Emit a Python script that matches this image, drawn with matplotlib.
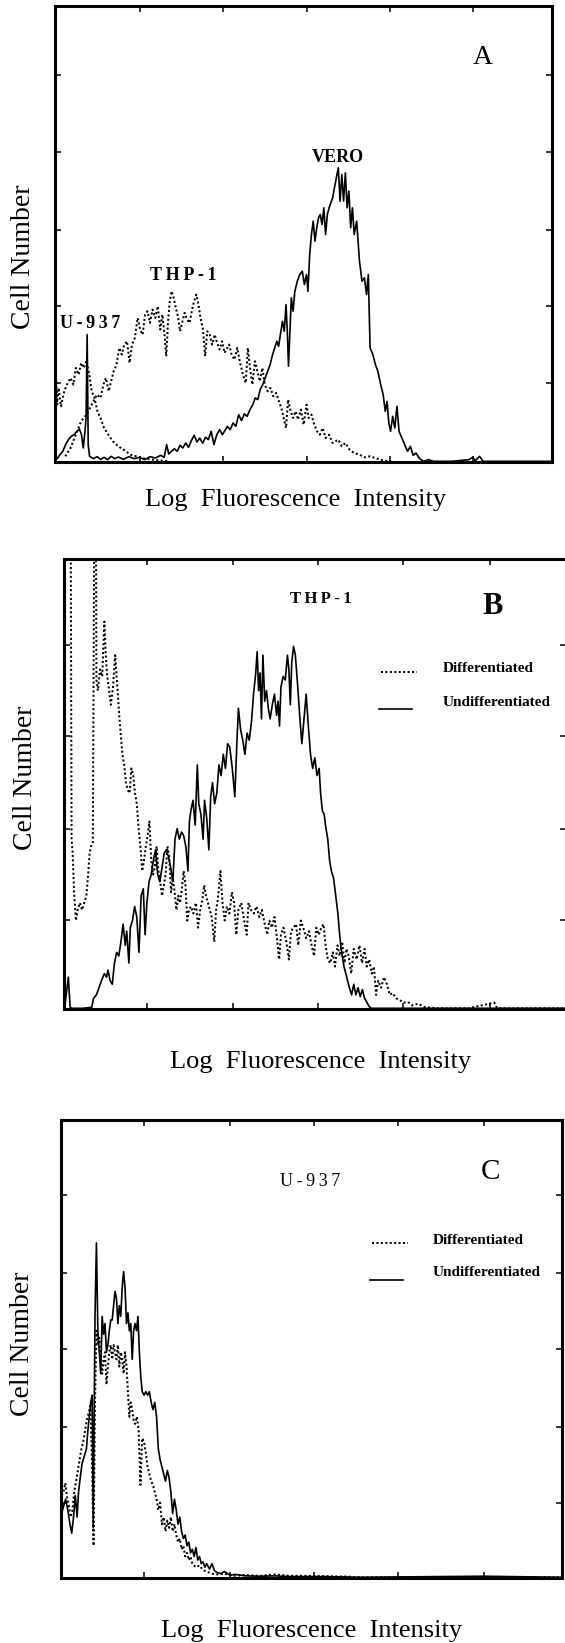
import numpy as np
import matplotlib
matplotlib.use("Agg")
import matplotlib.pyplot as plt
from matplotlib.lines import Line2D

plt.rcParams["font.family"] = ["Liberation Serif", "DejaVu Serif"]

FIG_W, FIG_H, DPI = 565, 1643, 100

# ---- panel A : VERO / THP-1 / U-937 (channel, cell count) ----
a_u937 = [(1, 192), (3, 262), (6, 172), (10, 222), (17, 167), (26, 212), (34, 232),
          (44, 252), (52, 232), (59, 282), (67, 262), (74, 297), (82, 282), (89, 304),
          (97, 262), (104, 212), (112, 192), (120, 152), (129, 132), (139, 102), (151, 82),
          (164, 62), (179, 47), (194, 37), (214, 22), (234, 16), (254, 10), (284, 6), (324, 2)]

a_thp1 = [(29, 17), (44, 42), (59, 82), (74, 122), (89, 142), (99, 162), (109, 182),
          (119, 202), (129, 192), (137, 232), (144, 252), (152, 212), (159, 242), (166, 272),
          (174, 292), (182, 342), (189, 322), (196, 352), (204, 362), (211, 297), (218, 352),
          (226, 372), (234, 432), (241, 397), (248, 382), (255, 442), (262, 452), (269, 417),
          (276, 457), (284, 432), (291, 467), (298, 397), (304, 442), (310, 382), (315, 317),
          (320, 422), (325, 482), (330, 512), (336, 492), (342, 462), (348, 437), (354, 392),
          (361, 422), (367, 447), (374, 427), (381, 417), (388, 457), (394, 482), (400, 502),
          (406, 472), (412, 432), (419, 397), (425, 317), (431, 392), (438, 382), (445, 352),
          (452, 382), (459, 357), (466, 337), (473, 362), (480, 327), (493, 352), (500, 322),
          (508, 307), (516, 342), (524, 297), (532, 262), (540, 237), (546, 342), (552, 282),
          (559, 232), (566, 302), (573, 272), (580, 242), (587, 282), (594, 232), (602, 212),
          (610, 222), (618, 197), (626, 207), (634, 182), (642, 157), (654, 102), (660, 187),
          (666, 157), (674, 132), (681, 152), (688, 127), (696, 157), (704, 112), (712, 172),
          (718, 132), (726, 142), (734, 112), (742, 92), (750, 82), (758, 102), (766, 72),
          (776, 82), (786, 57), (802, 67), (812, 47), (822, 57), (834, 37), (847, 27),
          (862, 22), (877, 14), (892, 17), (912, 10), (932, 4), (952, 2)]

a_vero = [(0, 10), (6, 10), (14, 22), (22, 32), (30, 52), (38, 67), (46, 77), (54, 82),
          (62, 92), (69, 99), (75, 82), (80, 42), (84, 82), (88, 132), (91, 382), (94, 52),
          (98, 17), (109, 10), (119, 16), (129, 8), (139, 14), (149, 7), (159, 17), (169, 10),
          (179, 15), (194, 8), (209, 16), (224, 10), (239, 14), (254, 7), (269, 16), (284, 12),
          (299, 20), (309, 14), (316, 52), (322, 24), (330, 32), (338, 40), (346, 32), (354, 50),
          (362, 42), (370, 57), (378, 44), (386, 64), (394, 80), (402, 60), (410, 72), (418, 56),
          (426, 74), (434, 67), (442, 92), (450, 52), (458, 82), (466, 97), (474, 82), (488, 107),
          (496, 97), (504, 117), (512, 107), (520, 142), (528, 124), (536, 144), (544, 137),
          (552, 157), (560, 172), (567, 192), (574, 187), (581, 217), (588, 232), (595, 252),
          (602, 272), (609, 292), (616, 322), (622, 342), (628, 362), (633, 347), (644, 422),
          (649, 392), (654, 472), (658, 382), (661, 287), (665, 392), (669, 492), (674, 452),
          (679, 512), (686, 542), (693, 562), (700, 572), (706, 532), (712, 562), (716, 512),
          (721, 622), (726, 682), (731, 722), (736, 662), (741, 702), (746, 732), (751, 742),
          (756, 712), (761, 762), (766, 682), (771, 742), (776, 762), (781, 777), (786, 792),
          (791, 822), (802, 882), (807, 782), (812, 862), (817, 782), (822, 867), (827, 762),
          (832, 812), (837, 702), (842, 762), (847, 682), (854, 722), (862, 602), (869, 542),
          (876, 552), (882, 502), (887, 562), (892, 342), (900, 322), (907, 292), (914, 272),
          (922, 232), (929, 202), (935, 152), (940, 182), (945, 117), (950, 92), (956, 137),
          (962, 102), (968, 167), (974, 92), (982, 72), (990, 52), (998, 32), (1006, 47),
          (1014, 20), (1022, 27), (1032, 10), (1044, 2), (1057, 7), (1072, 2), (1122, 2),
          (1172, 7), (1182, 14), (1190, 4), (1202, 17), (1212, 2), (1272, 2), (1402, 2)]

a_xticks = [240, 476, 712, 948, 1184]
a_yticks = [238, 468, 696, 929, 1161]

# ---- panel B : THP-1 differentiated vs undifferentiated ----
b_diff = [(18, 1600), (21, 480), (24, 440), (28, 330), (33, 250), (38, 280), (44, 300),
          (50, 280), (56, 300), (62, 320), (67, 380), (71, 440), (75, 460), (80, 470),
          (85, 1600), (88, 1600), (90, 930), (94, 900), (100, 960), (106, 940), (112, 1095),
          (116, 1000), (120, 940), (124, 910), (130, 860), (136, 910), (142, 1000), (146, 940),
          (150, 880), (154, 820), (158, 770), (162, 720), (167, 690), (172, 640), (177, 620),
          (182, 610), (187, 680), (192, 660), (197, 610), (202, 580), (207, 510), (212, 460),
          (217, 390), (222, 420), (227, 460), (232, 490), (237, 530), (242, 420), (247, 380),
          (252, 400), (257, 460), (262, 390), (267, 360), (272, 320), (277, 350), (282, 380),
          (287, 460), (292, 430), (297, 330), (302, 370), (307, 330), (312, 280), (317, 320),
          (322, 300), (327, 340), (332, 390), (337, 350), (342, 250), (347, 280), (352, 290),
          (359, 270), (366, 300), (372, 230), (378, 280), (384, 310), (389, 350), (394, 320),
          (402, 290), (410, 260), (417, 190), (422, 280), (427, 310), (434, 390), (440, 300),
          (446, 250), (452, 290), (459, 270), (466, 330), (472, 300), (478, 210), (484, 280),
          (492, 300), (500, 250), (507, 210), (512, 300), (519, 280), (527, 270), (534, 290),
          (542, 260), (549, 280), (557, 240), (564, 210), (570, 250), (577, 230), (584, 260),
          (590, 210), (597, 140), (602, 210), (609, 230), (617, 190), (624, 140), (630, 220),
          (637, 230), (644, 240), (650, 180), (657, 250), (664, 230), (672, 200), (680, 220),
          (687, 180), (694, 150), (700, 230), (707, 210), (714, 230), (720, 240), (726, 180),
          (732, 140), (739, 130), (746, 160), (752, 120), (759, 180), (765, 150), (772, 190),
          (778, 130), (784, 170), (790, 150), (797, 100), (804, 170), (812, 140), (820, 180),
          (827, 130), (834, 170), (840, 120), (847, 140), (854, 100), (860, 120), (866, 40),
          (872, 80), (880, 60), (888, 90), (896, 70), (904, 40), (912, 45), (922, 30),
          (932, 25), (942, 18), (954, 20), (967, 10), (982, 15), (1002, 5), (1042, 2),
          (1122, 2), (1194, 18), (1202, 2), (1272, 2), (1392, 2)]

b_undiff = [(2, 5), (12, 90), (17, 5), (22, 2), (52, 2), (77, 5), (82, 30), (90, 40),
            (97, 60), (104, 80), (112, 100), (118, 90), (122, 110), (128, 80), (134, 70),
            (140, 130), (146, 160), (152, 150), (158, 190), (164, 240), (170, 180), (174, 220),
            (180, 130), (184, 230), (190, 250), (196, 290), (202, 260), (208, 160), (214, 320),
            (220, 340), (225, 210), (230, 300), (236, 360), (242, 380), (248, 420), (254, 450),
            (260, 380), (266, 360), (272, 400), (278, 440), (284, 450), (290, 430), (296, 400),
            (302, 360), (308, 480), (314, 510), (320, 480), (326, 500), (332, 490), (338, 460),
            (344, 390), (348, 530), (352, 560), (358, 590), (364, 520), (370, 690), (374, 580),
            (380, 550), (386, 480), (390, 590), (396, 540), (402, 450), (407, 600), (412, 640),
            (418, 580), (424, 610), (430, 690), (436, 660), (442, 720), (448, 680), (454, 750),
            (460, 740), (467, 680), (474, 600), (480, 760), (484, 850), (490, 790), (496, 760),
            (502, 720), (508, 780), (514, 760), (520, 810), (526, 890), (532, 950), (536, 1010),
            (540, 900), (544, 950), (548, 820), (552, 1000), (557, 870), (562, 900), (567, 850),
            (572, 820), (578, 860), (584, 890), (590, 830), (594, 870), (598, 800), (602, 910),
            (608, 940), (614, 930), (620, 1000), (624, 960), (628, 860), (632, 980), (637, 1025),
            (642, 1000), (648, 920), (654, 830), (660, 750), (666, 820), (672, 890), (678, 800),
            (684, 720), (690, 680), (696, 710), (702, 660), (708, 680), (712, 610), (717, 560),
            (722, 550), (727, 510), (732, 480), (737, 420), (742, 390), (748, 370), (754, 320),
            (760, 270), (764, 220), (768, 180), (772, 150), (777, 120), (782, 100), (787, 80),
            (792, 60), (798, 40), (804, 70), (810, 40), (816, 60), (822, 35), (828, 55),
            (834, 30), (840, 20), (846, 8), (852, 2), (1392, 2)]

b_xticks = [230, 470, 705, 942, 1182]
b_yticks = [252, 510, 772, 1030]

# ---- panel C : U-937 differentiated vs undifferentiated ----
c_diff = [(2, 230), (7, 240), (12, 265), (17, 225), (22, 200), (27, 170), (32, 190),
          (37, 240), (42, 270), (47, 300), (52, 330), (57, 360), (62, 380), (67, 410),
          (72, 440), (77, 460), (82, 480), (87, 310), (91, 90), (95, 490), (99, 690),
          (103, 650), (107, 670), (111, 610), (115, 570), (119, 610), (123, 630), (127, 540),
          (131, 590), (135, 630), (139, 650), (143, 610), (147, 650), (151, 630), (155, 610),
          (159, 650), (163, 590), (167, 630), (171, 610), (175, 570), (179, 630), (183, 590),
          (187, 520), (191, 450), (195, 490), (199, 470), (203, 440), (207, 430), (212, 450),
          (217, 410), (222, 260), (227, 390), (232, 380), (237, 350), (242, 310), (247, 290),
          (252, 270), (257, 260), (262, 240), (267, 220), (272, 190), (277, 210), (282, 150),
          (287, 170), (292, 130), (297, 160), (302, 140), (307, 170), (312, 130), (317, 150),
          (322, 120), (327, 100), (332, 110), (337, 80), (342, 90), (347, 60), (352, 70),
          (357, 50), (362, 60), (367, 40), (377, 30), (387, 35), (397, 22), (407, 18),
          (422, 12), (437, 10), (457, 12), (477, 6), (517, 8), (557, 6), (597, 10), (637, 6),
          (677, 6), (797, 4), (837, 2), (1397, 2)]

c_undiff = [(2, 180), (7, 200), (13, 220), (19, 190), (25, 150), (30, 125), (35, 170),
            (40, 230), (45, 170), (49, 240), (55, 290), (59, 320), (65, 340), (71, 360),
            (75, 410), (79, 450), (83, 490), (87, 510), (90, 140), (95, 730), (99, 935),
            (103, 690), (107, 630), (111, 570), (115, 730), (119, 680), (123, 710), (127, 630),
            (131, 650), (135, 690), (139, 720), (143, 720), (147, 760), (151, 800), (155, 780),
            (159, 710), (163, 760), (167, 730), (171, 810), (175, 855), (179, 810), (183, 710),
            (187, 740), (191, 690), (195, 710), (199, 610), (203, 690), (207, 710), (211, 690),
            (215, 730), (219, 630), (223, 560), (227, 520), (232, 510), (237, 520), (242, 510),
            (247, 520), (252, 490), (257, 470), (262, 490), (267, 450), (272, 360), (277, 330),
            (282, 310), (287, 290), (292, 270), (297, 300), (302, 280), (307, 240), (312, 180),
            (317, 220), (322, 190), (327, 150), (332, 170), (337, 130), (342, 110), (347, 120),
            (352, 90), (357, 100), (362, 70), (367, 80), (372, 60), (377, 85), (382, 50),
            (387, 60), (392, 40), (397, 45), (402, 30), (407, 40), (415, 25), (422, 40),
            (429, 20), (437, 15), (447, 12), (457, 18), (472, 8), (487, 10), (517, 6), (557, 5),
            (597, 6), (637, 4), (737, 4), (837, 2), (1177, 5), (1397, 2)]

c_xticks = [232, 472, 707, 942, 1182]
c_yticks = [210, 422, 638, 850, 1068]

DOT = dict(color="black", lw=1.45, ls=(0, (1.0, 1.2)))
SOLID = dict(color="black", lw=1.2)


def px_axes(fig, left, top, right, bottom):
    return fig.add_axes([left / FIG_W, 1 - bottom / FIG_H,
                         (right - left) / FIG_W, (bottom - top) / FIG_H])


def px_text(fig, x, y, s, **kw):
    fig.text(x / FIG_W, 1 - y / FIG_H, s, ha="center", va="center", **kw)


def px_line(fig, x0, x1, y, **kw):
    fig.add_artist(Line2D([x0 / FIG_W, x1 / FIG_W], [1 - y / FIG_H] * 2,
                          transform=fig.transFigure, **kw))


def style_axes(ax, xlim, ylim, xticks, yticks):
    ax.set_xlim(*xlim)
    ax.set_ylim(*ylim)
    ax.set_xticks(xticks)
    ax.set_yticks(yticks)
    ax.tick_params(direction="in", length=4, width=1.1, top=True, right=True,
                   labelbottom=False, labelleft=False)
    for sp in ax.spines.values():
        sp.set_linewidth(2.2)


def draw(ax, series, style):
    arr = np.array(series, dtype=float)
    ax.plot(arr[:, 0], arr[:, 1], **style)


fig = plt.figure(figsize=(FIG_W / DPI, FIG_H / DPI), dpi=DPI)
ts = "\u2009"

# panel A
ax = px_axes(fig, 55, 6, 552, 462)
draw(ax, a_u937, DOT)
draw(ax, a_thp1, DOT)
draw(ax, a_vero, SOLID)
style_axes(ax, (0, 1407), (0, 1367), a_xticks, a_yticks)
px_text(fig, 483, 57, "A", fontsize=20)
px_text(fig, 338, 157, "VERO", fontsize=13, fontweight="bold")
px_text(fig, 183, 275, ts.join("THP-1"), fontsize=13, fontweight="bold")
px_text(fig, 90, 323, ts.join("U-937"), fontsize=13, fontweight="bold")
px_text(fig, 296, 500, "Log  Fluorescence  Intensity", fontsize=19)
px_text(fig, 24, 257, "Cell Number", fontsize=20, rotation=90)

# panel B
ax = px_axes(fig, 64, 559, 566, 1009)
draw(ax, b_diff, DOT)
draw(ax, b_undiff, SOLID)
style_axes(ax, (0, 1393), (0, 1272), b_xticks, b_yticks)
px_text(fig, 321, 599, ts.join("THP-1"), fontsize=12, fontweight="bold")
px_text(fig, 493, 607, "B", fontsize=22, fontweight="bold")
px_line(fig, 381, 417, 672, **DOT)
px_line(fig, 379, 412, 709, **SOLID)
px_text(fig, 488, 669, "Differentiated", fontsize=11, fontweight="bold")
px_text(fig, 497, 702, "Undifferentiated", fontsize=11, fontweight="bold")
px_text(fig, 321, 1062, "Log  Fluorescence  Intensity", fontsize=19)
px_text(fig, 26, 778, "Cell Number", fontsize=20, rotation=90)

# panel C
ax = px_axes(fig, 61, 1120, 562, 1578)
draw(ax, c_diff, DOT)
draw(ax, c_undiff, SOLID)
style_axes(ax, (0, 1400), (0, 1278), c_xticks, c_yticks)
px_text(fig, 310, 1181, ts.join("U-937"), fontsize=13)
px_text(fig, 490, 1172, "C", fontsize=21)
px_line(fig, 372, 408, 1243, **DOT)
px_line(fig, 370, 403, 1280, **SOLID)
px_text(fig, 478, 1241, "Differentiated", fontsize=11, fontweight="bold")
px_text(fig, 487, 1272, "Undifferentiated", fontsize=11, fontweight="bold")
px_text(fig, 312, 1631, "Log  Fluorescence  Intensity", fontsize=19)
px_text(fig, 23, 1344, "Cell Number", fontsize=20, rotation=90)

fig.savefig("out.png", dpi=DPI)
